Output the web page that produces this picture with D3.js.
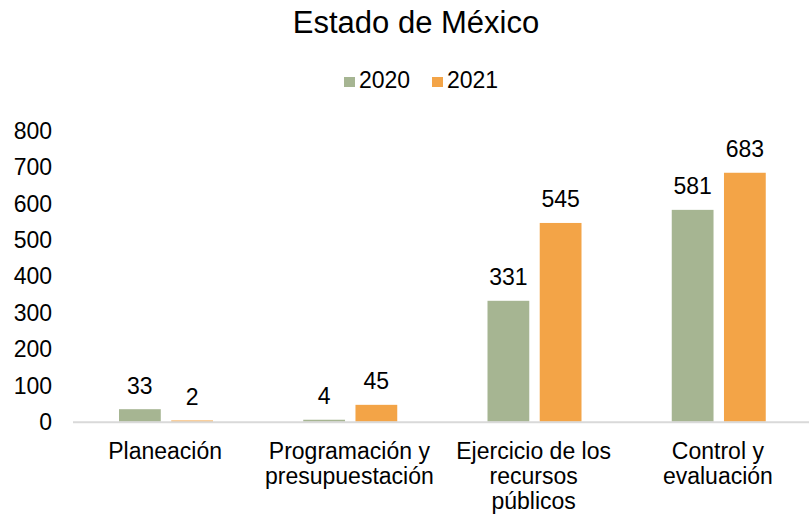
<!DOCTYPE html>
<html>
<head>
<meta charset="utf-8">
<script src="https://cdn.jsdelivr.net/npm/d3@7"></script>
<style>
  body { margin: 0; background: #fff; }
  text { font-family: "Liberation Sans", Arial, sans-serif; fill: #000; }
</style>
</head>
<body>
<div id="chart"></div>
<script>
var categories = [
  ["Planeación"],
  ["Programación y", "presupuestación"],
  ["Ejercicio de los", "recursos", "públicos"],
  ["Control y", "evaluación"]
];
var years = ["2020", "2021"];
var values2020 = [33, 4, 331, 581];
var values2021 = [2, 45, 545, 683];
var yTicks = [0, 100, 200, 300, 400, 500, 600, 700, 800];

var width = 809, height = 521;
var color = d3.scaleOrdinal().domain(years).range(["#a6b592", "#f3a447"]);

var svg = d3.select("#chart").append("svg")
  .attr("width", width)
  .attr("height", height);

var catKeys = categories.map(function(c){ return c.join(" "); });

var x0 = d3.scaleBand()
  .domain(catKeys)
  .range([73, 810]);

var x1 = d3.scaleBand()
  .domain(years)
  .range([46, 140])
  .paddingInner(0.2);

var y = d3.scaleLinear()
  .domain([0, 800])
  .range([421.7, 130.7]);

// title
svg.append("text")
  .attr("x", 416)
  .attr("y", 33)
  .attr("text-anchor", "middle")
  .style("font-size", "31px")
  .text("Estado de México");

// legend
var legendX = [344, 432];
years.forEach(function(yr, i){
  svg.append("rect")
    .attr("x", legendX[i])
    .attr("y", 77)
    .attr("width", 11)
    .attr("height", 10)
    .attr("fill", color(yr));
  svg.append("text")
    .attr("x", legendX[i] + 15)
    .attr("y", 88)
    .style("font-size", "23px")
    .text(yr);
});

// y tick labels
svg.selectAll(".ytick")
  .data(yTicks)
  .enter()
  .append("text")
  .attr("class", "ytick")
  .attr("x", 52)
  .attr("y", function(d){ return y(d); })
  .attr("dy", "0.36em")
  .attr("text-anchor", "end")
  .style("font-size", "23px")
  .text(function(d){ return d; });

// bars
var barData = [];
catKeys.forEach(function(c, i){
  barData.push({cat: c, year: "2020", value: values2020[i]});
  barData.push({cat: c, year: "2021", value: values2021[i]});
});

svg.selectAll(".bar")
  .data(barData)
  .enter()
  .append("rect")
  .attr("class", "bar")
  .attr("x", function(d){ return x0(d.cat) + x1(d.year); })
  .attr("y", function(d){ return y(d.value) - 0.5; })
  .attr("width", x1.bandwidth())
  .attr("height", function(d){ return y(0) - y(d.value) + 0.5; })
  .attr("fill", function(d){ return color(d.year); });

// data labels
svg.selectAll(".lbl")
  .data(barData)
  .enter()
  .append("text")
  .attr("class", "lbl")
  .attr("x", function(d){ return x0(d.cat) + x1(d.year) + x1.bandwidth() / 2; })
  .attr("y", function(d){ return y(d.value) - 16; })
  .attr("text-anchor", "middle")
  .style("font-size", "23px")
  .text(function(d){ return d.value; });

// x axis line
svg.append("line")
  .attr("x1", x0.range()[0])
  .attr("x2", x0.range()[1])
  .attr("y1", y(0) + 0.5)
  .attr("y2", y(0) + 0.5)
  .attr("stroke", "#d9d9d9")
  .attr("stroke-width", 2);

// category labels
categories.forEach(function(lines, i){
  var t = svg.append("text")
    .attr("text-anchor", "middle")
    .style("font-size", "23px");
  lines.forEach(function(l, j){
    t.append("tspan")
      .attr("x", x0(catKeys[i]) + x0.bandwidth() / 2)
      .attr("y", 459 + j * 25)
      .text(l);
  });
});
</script>
</body>
</html>
